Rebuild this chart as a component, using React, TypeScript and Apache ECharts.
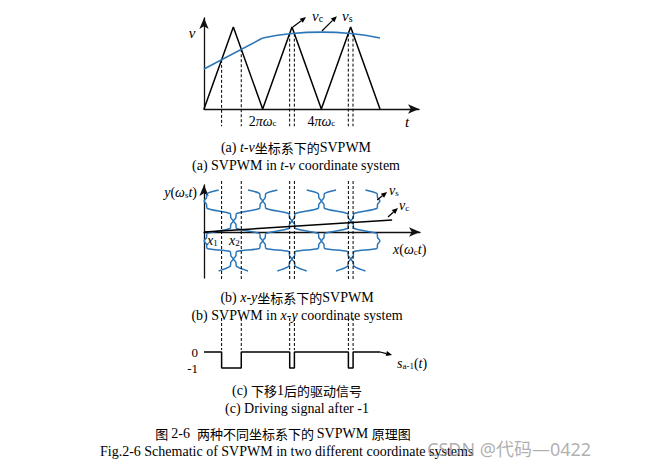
import React, { useEffect, useRef } from 'react';
import * as echarts from 'echarts';

// ---------- (a) t-v panel ----------
const carrierX = [0, 1, 2, 3, 4, 5, 6];
const carrierY = [0, 0.9, 0, 0.9, 0, 0.9, 0];
const modLineX = [0, 2];
const modLineY = [0.44, 0.78];
const modCurveX = [2, 3, 4, 5, 6];
const modCurveY = [0.78, 0.83, 0.845, 0.83, 0.78];
const switchX = [0.6, 1.27, 2.92, 3.08, 4.92, 5.08];
const topTickValues = [2, 4];
const topDashBottom = -0.19;
const topArrows = [
  [3.03, 0.9, 3.48, 1.01],
  [4.02, 0.857, 4.53, 1.02],
];

// ---------- (b) x-y panel ----------
const columnX = [0, 1, 2, 3, 4, 5, 6];
const strips = [0, 1, 2, 3, 4, 5];
const waistY = [0.66, 0.234, -0.19, -0.574];
const curveTopY = 0.894;
const curveBottomY = -0.83;
const vcLineX = [0, 6.41];
const vcLineY = [0, 0.255];
const midDashTop = 1.085;
const midDashBottom = -1.02;
const midArrows = [
  [5.9, 0.68, 6.24, 0.85],
  [6.27, 0.32, 6.61, 0.51],
];

// ---------- (c) driving signal ----------
const signalX = [0, 0.6, 1.27, 2.92, 3.08, 4.92, 5.08, 6];
const signalY = [0, -1, 0, -1, 0, -1, 0, 0];
const levelTicks = [0, -1];
const botDashTop = 2.125;
const botDashBottom = 0.125;
const botArrows = [[6, 0, 6.41, -0.19]];

const SERIF = '"Liberation Serif", "Times New Roman", "Noto Sans CJK SC", serif';
const BLUE = '#2a76b9';

function carrierAt(x: number) {
  for (let i = 0; i < carrierX.length - 1; i++) {
    if (x >= carrierX[i] && x <= carrierX[i + 1]) {
      const t = (x - carrierX[i]) / (carrierX[i + 1] - carrierX[i]);
      return carrierY[i] + t * (carrierY[i + 1] - carrierY[i]);
    }
  }
  return 0;
}

function rich(fs: number) {
  const lh = fs + 4;
  return {
    n: { fontFamily: SERIF, fontSize: fs, lineHeight: lh, verticalAlign: 'bottom', color: '#000' },
    i: { fontFamily: SERIF, fontSize: fs, fontStyle: 'italic', lineHeight: lh, verticalAlign: 'bottom', color: '#000' },
    s: { fontFamily: SERIF, fontSize: Math.round(fs * 0.66), lineHeight: 9, verticalAlign: 'bottom', color: '#000' },
    c: { fontFamily: '"Noto Sans CJK SC", sans-serif', fontSize: fs - 1, lineHeight: lh, verticalAlign: 'bottom', color: '#000' },
  };
}

function txt(x: number, y: number, text: string, fs: number, align = 'left') {
  return {
    type: 'text',
    x,
    y,
    style: {
      text,
      rich: rich(fs),
      align,
      textAlign: align,
      verticalAlign: 'middle',
      textVerticalAlign: 'middle',
      fill: '#000',
      font: `${fs}px ${SERIF}`,
    },
  };
}

function arrowSeries(xi: number, data: number[][]) {
  return {
    type: 'custom',
    xAxisIndex: xi,
    yAxisIndex: xi,
    clip: false,
    data,
    renderItem: (_p: any, api: any) => {
      const p0 = api.coord([api.value(0), api.value(1)]);
      const p1 = api.coord([api.value(2), api.value(3)]);
      const dx = p1[0] - p0[0];
      const dy = p1[1] - p0[1];
      const len = Math.hypot(dx, dy) || 1;
      const ux = dx / len;
      const uy = dy / len;
      const hl = 6;
      const hw = 2.6;
      const bx = p1[0] - ux * hl;
      const by = p1[1] - uy * hl;
      return {
        type: 'group',
        children: [
          { type: 'line', shape: { x1: p0[0], y1: p0[1], x2: bx, y2: by }, style: { stroke: '#000', lineWidth: 1.2 } },
          {
            type: 'polygon',
            shape: { points: [[p1[0], p1[1]], [bx - uy * hw, by + ux * hw], [bx + uy * hw, by - ux * hw]] },
            style: { fill: '#000' },
          },
        ],
      };
    },
  };
}

function dashSeries(xi: number, top: (x: number) => number, bottom: number) {
  return {
    type: 'custom',
    xAxisIndex: xi,
    yAxisIndex: xi,
    clip: false,
    data: switchX.map((x) => [x, 0]),
    renderItem: (_p: any, api: any) => {
      const x = api.value(0);
      const a = api.coord([x, top(x)]);
      const b = api.coord([x, bottom]);
      return {
        type: 'line',
        shape: { x1: a[0], y1: a[1], x2: b[0], y2: b[1] },
        style: { stroke: '#000', lineWidth: 1, lineDash: [3, 2] },
      };
    },
  };
}

const GAP = 2.5;
const BUMP = 2.3;
const HALF = 7.5;

export default function App() {
  const ref = useRef<HTMLDivElement>(null);
  useEffect(() => {
    if (!ref.current) return;
    const chart = echarts.init(ref.current, undefined, { renderer: 'svg' });
    const axisLine = (show: boolean) => ({
      show,
      onZero: true,
      symbol: ['none', 'arrow'],
      symbolSize: [7, 11],
      lineStyle: { color: '#111', width: 1.3 },
    });
    const baseX = (gi: number, max: number, show: boolean) => ({
      type: 'value',
      gridIndex: gi,
      min: 0,
      max,
      axisLine: axisLine(show),
      axisTick: { show: false },
      splitLine: { show: false },
      axisLabel: { show: false },
    });
    const baseY = (gi: number, min: number, max: number, show: boolean) => ({
      type: 'value',
      gridIndex: gi,
      min,
      max,
      axisLine: axisLine(show),
      axisTick: { show: false },
      splitLine: { show: false },
      axisLabel: { show: false },
    });

    const xTop: any = baseX(0, 7.33, true);
    xTop.axisLabel = {
      show: true,
      customValues: topTickValues,
      margin: 1,
      formatter: (v: number) => `{n|${v}}{i|πω}{s|c}`,
      rich: rich(14),
    };
    const yBot: any = baseY(2, -1.75, 1.375, false);
    yBot.axisLabel = {
      show: true,
      customValues: levelTicks,
      margin: 6,
      fontFamily: SERIF,
      fontSize: 13,
      color: '#000',
      formatter: (v: number) => String(v),
    };

    const option: any = {
      animation: false,
      backgroundColor: '#fff',
      grid: [
        { left: 204, top: 18, width: 215, height: 91 },
        { left: 204, top: 185, width: 216, height: 93 },
        { left: 204, top: 330, width: 216, height: 50 },
      ],
      xAxis: [xTop, baseX(1, 7.36, true), baseX(2, 7.36, false)],
      yAxis: [baseY(0, 0, 1, true), baseY(1, -0.979, 1, true), yBot],
      series: [
        {
          type: 'line',
          xAxisIndex: 0,
          yAxisIndex: 0,
          data: carrierX.map((x, i) => [x, carrierY[i]]),
          symbol: 'none',
          lineStyle: { color: '#000', width: 1.5 },
        },
        {
          type: 'line',
          xAxisIndex: 0,
          yAxisIndex: 0,
          data: modLineX.map((x, i) => [x, modLineY[i]]),
          symbol: 'none',
          lineStyle: { color: BLUE, width: 1.6 },
        },
        {
          type: 'line',
          xAxisIndex: 0,
          yAxisIndex: 0,
          smooth: true,
          data: modCurveX.map((x, i) => [x, modCurveY[i]]),
          symbol: 'none',
          lineStyle: { color: BLUE, width: 1.6 },
        },
        dashSeries(0, (x) => carrierAt(x), topDashBottom),
        arrowSeries(0, topArrows),
        {
          type: 'custom',
          xAxisIndex: 1,
          yAxisIndex: 1,
          clip: false,
          data: strips.map((k) => [k, 0]),
          renderItem: (_p: any, api: any) => {
            const k = api.value(0);
            const a = columnX[k];
            const b = columnX[k + 1];
            const leftIsTrough = k % 2 === 0;
            const pts: number[][] = [];
            pts.push(api.coord([(a + b) / 2, curveTopY]));
            waistY.forEach((wy, i) => {
              const onTrough = i % 2 === 0;
              const col = onTrough === leftIsTrough ? a : b;
              const side = col === a ? 1 : -1;
              const c = api.coord([col, wy]);
              const x = c[0] + side * GAP;
              const tip = c[0] + side * (GAP - BUMP);
              pts.push([x + side * 0.8, c[1] - HALF]);
              pts.push([x, c[1] - 3.3]);
              pts.push([tip, c[1]]);
              pts.push([x, c[1] + 3.3]);
              pts.push([x + side * 0.8, c[1] + HALF]);
            });
            pts.push(api.coord([(a + b) / 2, curveBottomY]));
            return {
              type: 'polyline',
              shape: { points: pts, smooth: 0.3 },
              style: { stroke: BLUE, fill: 'none', lineWidth: 1.5 },
            };
          },
        },
        {
          type: 'line',
          xAxisIndex: 1,
          yAxisIndex: 1,
          data: vcLineX.map((x, i) => [x, vcLineY[i]]),
          symbol: 'none',
          lineStyle: { color: '#000', width: 1.5 },
        },
        dashSeries(1, () => midDashTop, midDashBottom),
        arrowSeries(1, midArrows),
        {
          type: 'line',
          xAxisIndex: 2,
          yAxisIndex: 2,
          step: 'end',
          data: signalX.map((x, i) => [x, signalY[i]]),
          symbol: 'none',
          lineStyle: { color: '#000', width: 1.5 },
        },
        dashSeries(2, () => botDashTop, botDashBottom),
        arrowSeries(2, botArrows),
      ],
      graphic: [
        txt(192, 31, '{i|v}', 15, 'center'),
        txt(407, 120, '{i|t}', 15, 'center'),
        txt(312, 14, '{i|v}{s|c}', 15),
        txt(342, 14, '{i|v}{s|s}', 15),
        txt(197, 190, '{i|y}{n|(}{i|ω}{s|s}{i|t}{n|)}', 14, 'right'),
        txt(393, 247, '{i|x}{n|(}{i|ω}{s|c}{i|t}{n|)}', 14),
        txt(207, 238, '{i|x}{s|1}', 14),
        txt(229, 238, '{i|x}{s|2}', 14),
        txt(389, 188, '{i|v}{s|s}', 14),
        txt(399, 203, '{i|v}{s|c}', 14),
        txt(397, 361, '{i|s}{s|a-1}{n|(}{i|t}{n|)}', 14),
        txt(296, 145, '{n|(a) }{i|t-v}{c|坐标系下的}{n|SVPWM}', 14, 'center'),
        txt(296, 163, '{n|(a) SVPWM in }{i|t-v}{n| coordinate system}', 14, 'center'),
        txt(297, 295, '{n|(b) }{i|x-y}{c|坐标系下的}{n|SVPWM}', 14, 'center'),
        txt(297, 313, '{n|(b) SVPWM in }{i|x-y}{n| coordinate system}', 14, 'center'),
        txt(297, 388, '{n|(c) }{c|下移}{n|1}{c|后的驱动信号}', 14, 'center'),
        txt(297, 406, '{n|(c) Driving signal after -1}', 14, 'center'),
        txt(283, 431, '{c|图 }{n|2-6  }{c|两种不同坐标系下的 }{n|SVPWM }{c|原理图}', 14, 'center'),
        txt(100, 449, '{n|Fig.2-6 Schematic of SVPWM in two different coordinate systems}', 14),
        {
          type: 'text',
          x: 427,
          y: 449,
          style: {
            text: 'CSDN @代码—0422',
            fill: 'rgba(150,150,150,0.75)',
            font: '18px "Noto Sans", "Noto Sans CJK SC", sans-serif',
            align: 'left',
            textAlign: 'left',
            verticalAlign: 'middle',
            textVerticalAlign: 'middle',
          },
        },
      ],
    };
    chart.setOption(option);
    return () => chart.dispose();
  }, []);
  return <div ref={ref} style={{ position: 'fixed', left: 0, top: 0, width: 654, height: 471 }} />;
}
